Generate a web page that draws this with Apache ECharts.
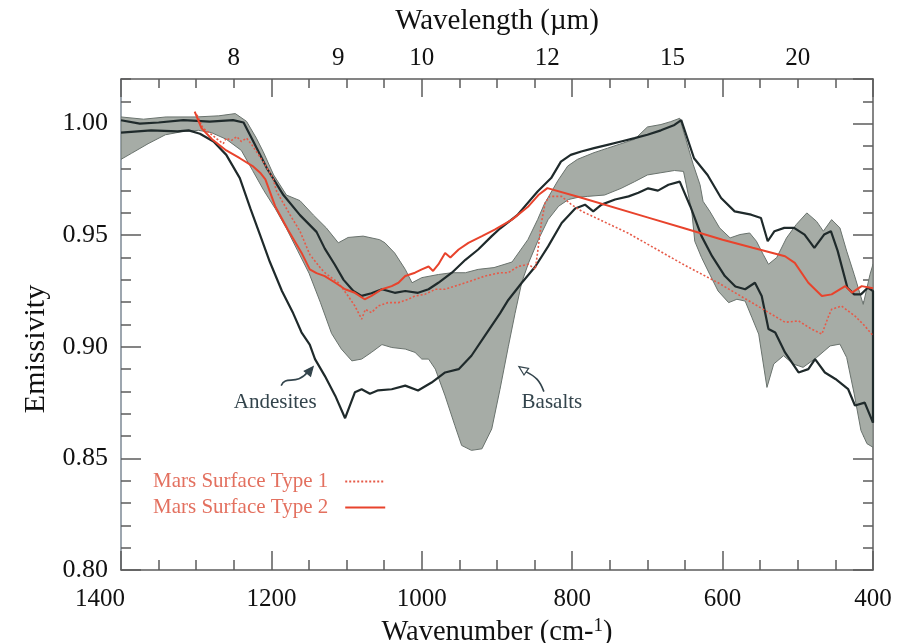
<!DOCTYPE html>
<html>
<head>
<meta charset="utf-8">
<title>Emissivity</title>
<script src="https://cdn.jsdelivr.net/npm/echarts@6/dist/echarts.min.js"></script>
<style>
  html, body { margin: 0; padding: 0; background: #fff; }
  #chart { width: 922px; height: 643px; }
</style>
</head>
<body>
<div id="chart"></div>
<script>
// wavenumber (cm-1), emissivity pairs
const andesiteLow = [[1400,0.996],[1360,0.997],[1325,0.9965],[1310,0.997],[1295,0.9955],[1277,0.992],[1260,0.986],[1242,0.9756],[1228,0.962],[1215,0.950],[1202,0.938],[1186,0.925],[1171,0.915],[1160,0.9065],[1149,0.901],[1142,0.8945],[1129,0.887],[1115,0.878],[1102,0.868],[1089,0.8796],[1080,0.881],[1069,0.879],[1058,0.8805],[1040,0.881],[1022,0.8826],[1005,0.8804],[987,0.884],[969,0.8885],[951,0.890],[934,0.896],[916,0.905],[896,0.915],[885,0.921],[867,0.9287],[849,0.936],[832,0.945],[814,0.9555],[796,0.962],[783,0.9637],[772,0.9607],[761,0.9637],[743,0.966],[725,0.9674],[712,0.969],[699,0.971],[686,0.970],[672,0.9726],[657,0.974],[643,0.963],[628,0.9496],[614,0.9406],[597,0.9317],[583,0.927],[570,0.9258],[557,0.9287],[548,0.9228],[539,0.908],[530,0.9064],[517,0.8975],[499,0.8885],[486,0.890],[477,0.8945],[464,0.8885],[450,0.8856],[433,0.881],[424,0.8737],[411,0.875],[400,0.866]];

const andesiteHigh = [[1400,1.0015],[1375,1.0],[1350,1.0005],[1317,1.0016],[1282,1.0009],[1251,1.0016],[1237,1.0005],[1224,0.992],[1206,0.980],[1184,0.968],[1162,0.959],[1140,0.9515],[1129,0.944],[1116,0.937],[1104,0.930],[1091,0.925],[1080,0.9228],[1067,0.924],[1053,0.9258],[1036,0.9242],[1022,0.925],[1005,0.9242],[991,0.9258],[978,0.9287],[960,0.9332],[942,0.939],[925,0.9436],[907,0.9496],[896,0.953],[873,0.959],[846,0.9696],[828,0.9756],[815,0.983],[802,0.986],[788,0.9875],[771,0.989],[753,0.9905],[735,0.992],[717,0.9935],[700,0.995],[682,0.997],[664,0.9994],[655,1.0016],[638,0.9845],[620,0.977],[602,0.9667],[584,0.9607],[562,0.9592],[549,0.9577],[540,0.9473],[531,0.9518],[518,0.9533],[505,0.9533],[491,0.9503],[478,0.9443],[465,0.9503],[456,0.9518],[447,0.943],[434,0.9265],[425,0.9235],[416,0.9235],[407,0.9265],[400,0.925],[400,0.866]];

const basaltTop = [[1400,1.003],[1370,1.002],[1340,1.003],[1300,1.003],[1270,1.0035],[1248,1.0045],[1233,1.001],[1220,0.9935],[1211,0.9875],[1197,0.977],[1180,0.968],[1162,0.9655],[1144,0.959],[1127,0.9533],[1111,0.9466],[1098,0.949],[1078,0.9496],[1056,0.948],[1049,0.9466],[1036,0.942],[1022,0.9347],[1013,0.9287],[1000,0.931],[978,0.9324],[960,0.9332],[942,0.9332],[925,0.9347],[904,0.9355],[880,0.938],[859,0.948],[846,0.957],[837,0.964],[819,0.9745],[806,0.981],[793,0.984],[771,0.987],[753,0.989],[735,0.991],[717,0.993],[700,0.9985],[682,0.9996],[669,1.0009],[657,1.0024],[639,0.9816],[630,0.9726],[626,0.9652],[617,0.9607],[604,0.9533],[590,0.9488],[577,0.9503],[564,0.951],[555,0.9473],[546,0.9414],[539,0.937],[528,0.940],[515,0.9488],[502,0.9548],[488,0.960],[475,0.9562],[466,0.9518],[455,0.957],[444,0.9533],[435,0.9429],[425,0.9324],[413,0.919],[404,0.9324],[400,0.937]];

const basaltBottom = [[1400,0.984],[1386,0.9867],[1364,0.991],[1341,0.995],[1319,0.9964],[1297,0.997],[1280,0.996],[1260,0.993],[1240,0.988],[1225,0.979],[1210,0.970],[1195,0.962],[1180,0.953],[1165,0.943],[1150,0.933],[1135,0.920],[1120,0.906],[1107,0.899],[1093,0.8937],[1080,0.8945],[1067,0.8975],[1053,0.901],[1040,0.8997],[1022,0.899],[1009,0.8975],[1000,0.8945],[991,0.8945],[982,0.890],[969,0.878],[956,0.8647],[947,0.8558],[934,0.8536],[920,0.8543],[907,0.8632],[896,0.881],[885,0.900],[876,0.915],[867,0.929],[858,0.9376],[845,0.948],[832,0.957],[818,0.963],[805,0.966],[792,0.967],[780,0.9674],[757,0.968],[735,0.971],[717,0.974],[700,0.977],[682,0.978],[664,0.979],[652,0.9786],[641,0.9607],[637,0.9473],[628,0.940],[617,0.9324],[606,0.925],[592,0.9198],[581,0.9213],[570,0.9205],[561,0.9131],[552,0.9057],[541,0.8818],[532,0.8923],[519,0.896],[506,0.8923],[493,0.8908],[475,0.8952],[457,0.9004],[444,0.9012],[435,0.8952],[425,0.8789],[416,0.8625],[408,0.8566],[400,0.855]];

const marsType1 = [[1299,1.004],[1291,0.998],[1281,0.9955],[1272,0.993],[1264,0.991],[1260,0.9935],[1253,0.9925],[1246,0.9942],[1240,0.992],[1233,0.9935],[1226,0.9905],[1220,0.9875],[1211,0.983],[1198,0.9756],[1193,0.9696],[1175,0.959],[1162,0.9518],[1149,0.9414],[1135,0.9354],[1129,0.9332],[1111,0.9287],[1098,0.9228],[1089,0.9183],[1080,0.9124],[1075,0.9168],[1067,0.9153],[1058,0.9183],[1045,0.9198],[1031,0.9198],[1018,0.9213],[1009,0.9228],[996,0.9235],[982,0.9258],[969,0.9258],[956,0.9272],[942,0.9287],[929,0.9302],[916,0.9317],[896,0.9332],[885,0.9332],[872,0.936],[858,0.937],[849,0.9347],[845,0.945],[841,0.9555],[836,0.9645],[830,0.9674],[814,0.9674],[801,0.9637],[787,0.9607],[726,0.951],[650,0.9365],[606,0.9287],[561,0.9198],[535,0.9146],[517,0.911],[499,0.9116],[482,0.908],[468,0.9057],[459,0.9138],[455,0.9168],[442,0.9183],[424,0.9138],[411,0.9094],[400,0.905]];

const marsType2 = [[1302,1.0054],[1293,0.998],[1279,0.993],[1260,0.988],[1242,0.9845],[1225,0.981],[1215,0.978],[1208,0.975],[1195,0.963],[1178,0.9525],[1160,0.9422],[1149,0.9347],[1140,0.933],[1129,0.9317],[1115,0.9287],[1102,0.9258],[1089,0.9242],[1076,0.9213],[1067,0.9228],[1053,0.9258],[1040,0.9272],[1031,0.9287],[1022,0.9317],[1009,0.9332],[1000,0.9347],[991,0.936],[985,0.934],[978,0.9369],[969,0.942],[962,0.940],[951,0.9436],[938,0.9466],[920,0.9496],[903,0.9525],[880,0.957],[858,0.963],[845,0.968],[833,0.9711],[790,0.967],[700,0.958],[650,0.953],[600,0.948],[560,0.9444],[517,0.9406],[504,0.9376],[486,0.9287],[468,0.9228],[455,0.9235],[437,0.9272],[428,0.9243],[415,0.9272],[400,0.9262]];

// top axis labels, in micrometres
const wavelengthLabels = [8, 9, 10, 12, 15, 20];
const legendNames = ['Mars Surface Type 1', 'Mars Surface Type 2'];

const serif = '"Liberation Serif", "Times New Roman", serif';
const axisColor = '#5c5c5c';
const darkLine = '#1f2a2b';
const noteColor = '#33444c';

const chart = echarts.init(document.getElementById('chart'));

// frame side: major ticks (with labels on the bottom/left) and minor ticks
function xSide(position, extra) {
  return Object.assign({
    type: 'value', min: 400, max: 1400, interval: 200, inverse: true, position: position,
    axisLine: { show: true, onZero: false, lineStyle: { color: axisColor, width: 1.5 } },
    axisTick: { show: true, inside: true, length: 19, lineStyle: { color: axisColor, width: 1.5 } },
    minorTick: { show: true, splitNumber: 4, length: 10, lineStyle: { color: axisColor, width: 1.5 } },
    splitLine: { show: false }, minorSplitLine: { show: false }
  }, extra);
}
function ySide(position, interval, tickLen, extra) {
  return Object.assign({
    type: 'value', min: 0.8, max: 1.02, interval: interval, position: position,
    axisLine: { show: true, onZero: false, lineStyle: { color: position === 'left' ? '#7d8994' : axisColor, width: 1.5 } },
    axisTick: { show: true, inside: true, length: tickLen, lineStyle: { color: axisColor, width: 1.5 } },
    axisLabel: { show: false },
    splitLine: { show: false }
  }, extra);
}

chart.setOption({
  animation: false,
  grid: { left: 121, right: 49, top: 79, bottom: 73, outerBoundsMode: 'none' },
  legend: {
    data: legendNames, orient: 'vertical', left: 148, top: 466, align: 'right',
    itemWidth: 40, itemHeight: 14, itemGap: 5, selectedMode: false,
    itemStyle: { color: 'rgba(0,0,0,0)', borderWidth: 0, opacity: 0 },
    textStyle: { fontFamily: serif, fontSize: 21, color: '#e3705f', padding: [0, 12, 0, 0] }
  },
  xAxis: [
    xSide('bottom', {
      axisLabel: {
        margin: 17, fontSize: 25, color: '#111', fontFamily: serif,
        formatter: function (v) { return v === 1400 ? '{m|1400}' : String(v); },
        rich: { m: { fontSize: 25, color: '#111', fontFamily: serif, padding: [0, 42, 0, 0] } }
      },
      name: '{t|Wavenumber (cm-}{s|1}{t|)}', nameLocation: 'middle', nameGap: 41,
      nameTextStyle: {
        rich: {
          t: { fontSize: 28.5, color: '#111', fontFamily: serif },
          s: { fontSize: 19, color: '#111', fontFamily: serif, padding: [0, 0, 12, 0] }
        }
      }
    }),
    xSide('top', {
      axisTick: { show: true, inside: true, length: 18, lineStyle: { color: axisColor, width: 1.5 } },
      minorTick: { show: true, splitNumber: 4, length: 9, lineStyle: { color: axisColor, width: 1.5 } },
      axisLabel: {
        customValues: wavelengthLabels.map(function (l) { return 10000 / l; }),
        formatter: function (v) { return String(Math.round(10000 / v)); },
        margin: 8, fontSize: 25, color: '#111', fontFamily: serif
      },
      name: 'Wavelength (\u00b5m)', nameLocation: 'middle', nameGap: 43,
      nameTextStyle: { fontSize: 29, color: '#111', fontFamily: serif }
    })
  ],
  yAxis: [
    ySide('left', 0.05, 20, {
      axisLabel: {
        show: true, showMaxLabel: false, margin: 13, fontSize: 26, color: '#111', fontFamily: serif,
        formatter: function (v) { return v.toFixed(2); }
      },
      name: 'Emissivity', nameLocation: 'middle', nameGap: 70,
      nameTextStyle: { fontSize: 30, color: '#111', fontFamily: serif, padding: [0, 49, 0, 0] }
    }),
    ySide('left', 0.01, 10, { axisLine: { show: false } }),
    ySide('right', 0.05, 20, {}),
    ySide('right', 0.01, 10, { axisLine: { show: false } })
  ],
  series: [
    {
      name: 'Basalts', type: 'custom', clip: true, silent: true, z: 1,
      data: [basaltTop[0]],
      renderItem: function (params, api) {
        const pts = basaltTop.map(function (p) { return api.coord(p); })
          .concat(basaltBottom.slice().reverse().map(function (p) { return api.coord(p); }));
        return {
          type: 'polygon', shape: { points: pts },
          style: { fill: '#a6aca6', stroke: '#69726d', lineWidth: 1 }
        };
      }
    },
    {
      name: 'Andesites low', type: 'line', data: andesiteLow, symbol: 'none', z: 3,
      lineStyle: { color: darkLine, width: 2.2 }
    },
    {
      name: 'Andesites high', type: 'line', data: andesiteHigh, symbol: 'none', z: 3,
      lineStyle: { color: darkLine, width: 2.2 }
    },
    {
      name: legendNames[0], type: 'line', data: marsType1, symbol: 'none', z: 4,
      itemStyle: { color: '#e65a48' },
      lineStyle: { color: '#e65a48', width: 1.6, type: [2, 2] }
    },
    {
      name: legendNames[1], type: 'line', data: marsType2, symbol: 'none', z: 5,
      itemStyle: { color: '#e8432c' },
      lineStyle: { color: '#e8432c', width: 2 }
    }
  ]
});

// annotations: label anchors in data space, arrow shapes as pixel offsets from them
function at(w, e) { return chart.convertToPixel({ xAxisIndex: 0, yAxisIndex: 0 }, [w, e]); }
const a = at(1195, 0.875);
const b = at(827, 0.875);
function textEl(p, txt) {
  return {
    type: 'text', x: p[0], y: p[1], z: 10,
    style: { text: txt, font: '21px ' + serif, fill: noteColor, align: 'center', verticalAlign: 'middle',
      textAlign: 'center', textVerticalAlign: 'middle' }
  };
}
function curve(p, c) {
  return {
    type: 'bezierCurve', z: 10,
    shape: { x1: p[0] + c[0], y1: p[1] + c[1], cpx1: p[0] + c[2], cpy1: p[1] + c[3],
      cpx2: p[0] + c[4], cpy2: p[1] + c[5], x2: p[0] + c[6], y2: p[1] + c[7] },
    style: { stroke: noteColor, lineWidth: 1.6, fill: null }
  };
}
function head(p, c, filled) {
  return {
    type: 'polygon', z: 10,
    shape: { points: [[p[0] + c[0], p[1] + c[1]], [p[0] + c[2], p[1] + c[3]], [p[0] + c[4], p[1] + c[5]]] },
    style: { fill: filled ? noteColor : '#fff', stroke: noteColor, lineWidth: 1.2 }
  };
}
chart.setOption({
  graphic: [
    textEl(a, 'Andesites'),
    curve(a, [6, -17, 11, -28, 21, -16, 33, -31]),
    head(a, [38, -36, 35.4, -26.5, 29.2, -31.5], true),
    textEl(b, 'Basalts'),
    curve(b, [-8, -11, -12, -22, -16, -26, -26, -31]),
    head(b, [-33, -36, -23.3, -34.2, -27.9, -27.6], false)
  ]
});
</script>
</body>
</html>
